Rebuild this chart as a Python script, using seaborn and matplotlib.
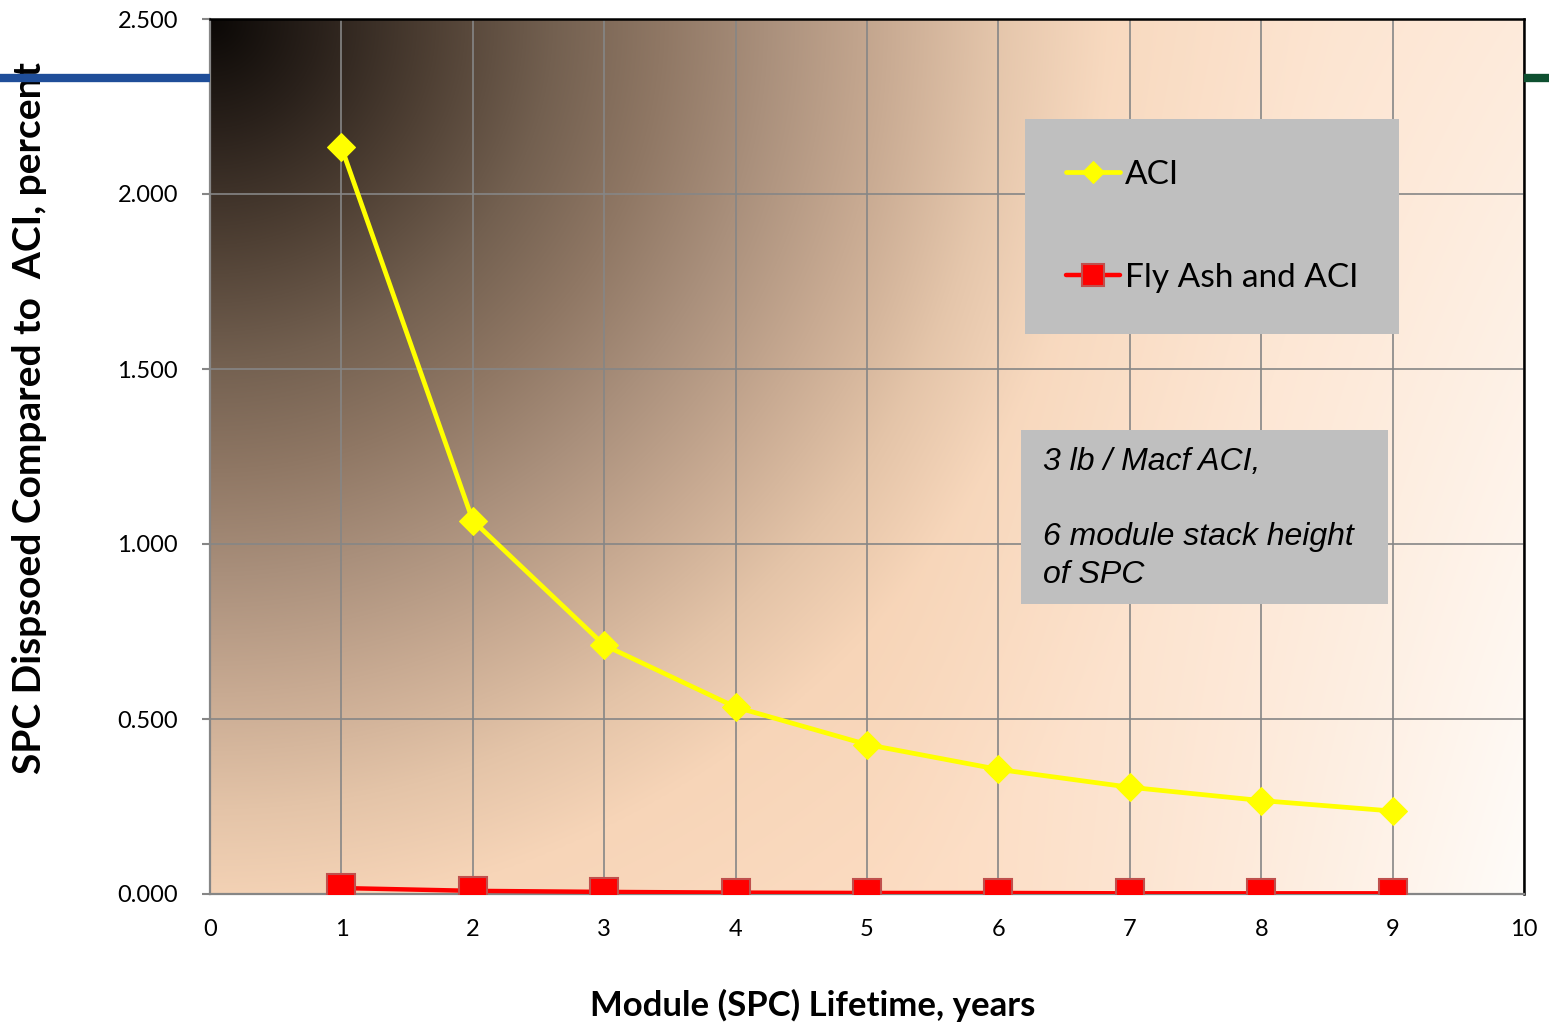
import numpy as np
import pandas as pd
import matplotlib
matplotlib.use("Agg")
import matplotlib.pyplot as plt
import seaborn as sns
from matplotlib.lines import Line2D
from matplotlib.patches import Rectangle

# ---------------- data ----------------
years = [1, 2, 3, 4, 5, 6, 7, 8, 9]
aci = [2.134, 1.067, 0.711, 0.534, 0.427, 0.356, 0.305, 0.267, 0.237]
fly_ash_aci = [0.017, 0.009, 0.006, 0.004, 0.003, 0.003, 0.002, 0.002, 0.002]
series_names = ["ACI", "Fly Ash and ACI"]
x_ticks = [0, 1, 2, 3, 4, 5, 6, 7, 8, 9, 10]
y_ticks = [0.0, 0.5, 1.0, 1.5, 2.0, 2.5]
y_tick_labels = ["0.000", "0.500", "1.000", "1.500", "2.000", "2.500"]
x_label = "Module (SPC) Lifetime, years"
y_label = "SPC Dispsoed Compared to  ACI, percent"
note_text = "3 lb / Macf ACI,\n\n6 module stack height\nof SPC"

sns.set_style("white")
plt.rcParams["font.family"] = ["Lato", "DejaVu Sans"]
plt.rcParams["text.color"] = "black"
plt.rcParams["axes.labelcolor"] = "black"

W, H = 1549, 1024
fig = plt.figure(figsize=(W / 100, H / 100), dpi=100)
L, R, T, B = 210, 1524, 19, 894
ax = fig.add_axes([L / W, 1 - B / H, (R - L) / W, (B - T) / H])

# ---------------- background gradient ----------------
nh, nw = 220, 330
px = np.linspace(0, R - L, nw)[None, :]
py = np.linspace(0, B - T, nh)[:, None]
d = np.sqrt(px ** 2 + py ** 2) / 900.0
stops = [0.0, 0.12, 0.25, 0.38, 0.5, 0.62, 0.75, 0.88, 1.0, 1.25]
cols = ["#0b0806", "#2a211b", "#4f4034", "#736050", "#8f7764",
        "#aa907c", "#c8aa92", "#e4c4a8", "#f7d5b8", "#fcdcc2"]
rgb = np.array([matplotlib.colors.to_rgb(c) for c in cols])
img = np.stack([np.interp(d, stops, rgb[:, k]) for k in range(3)], axis=-1)
u = px / (R - L)
vdown = py / (B - T)
w = np.clip((u - 0.5) / 0.5, 0, 1) ** 1.4 * (0.45 + 0.55 * vdown)
white = np.array(matplotlib.colors.to_rgb("#fffcf9"))
img = img * (1 - w[..., None]) + white * w[..., None]
ax.imshow(img, extent=[0, 1, 0, 1], transform=ax.transAxes,
          aspect="auto", zorder=0, interpolation="bilinear")

# ---------------- series ----------------
sns.lineplot(x=years, y=fly_ash_aci, ax=ax, color="#ff0000", linewidth=3.2,
             marker="s", markersize=20, markeredgecolor="#c0504d",
             markeredgewidth=1.5, label=series_names[1], zorder=3)
sns.lineplot(x=years, y=aci, ax=ax, color="#ffff00", linewidth=3.4,
             marker="D", markersize=14, markeredgecolor="#ffff00",
             label=series_names[0], zorder=4)

ax.set_xlim(0, 10)
ax.set_ylim(0, 2.5)
ax.set_xticks(x_ticks)
ax.set_yticks(y_ticks)
ax.set_yticklabels(y_tick_labels)
ax.set_axisbelow(True)
ax.grid(True, color="#868686", linewidth=1.2)

for side in ["left", "bottom"]:
    ax.spines[side].set_color("#868686")
    ax.spines[side].set_linewidth(1.6)
for side in ["top", "right"]:
    ax.spines[side].set_color("black")
    ax.spines[side].set_linewidth(1.8)
    ax.spines[side].set_visible(True)

ax.tick_params(axis="y", length=6, width=1.5, color="#868686", pad=17,
               labelsize=17, labelcolor="black", left=True)
ax.tick_params(axis="x", length=0, pad=18, labelsize=17, labelcolor="black")

ax.set_xlabel(x_label, fontsize=25, fontweight="bold", va="center",
              color="black")
ax.xaxis.set_label_coords((813 - L) / (R - L), (B - 1005) / (B - T))
ax.set_ylabel(y_label, fontsize=28, fontweight="bold", va="center",
              color="black")
ax.yaxis.set_label_coords((30 - L) / (R - L), (B - 418) / (B - T))

# ---------------- legend ----------------
handles, labels = ax.get_legend_handles_labels()
order = [labels.index(series_names[0]), labels.index(series_names[1])]
leg = ax.legend([handles[i] for i in order], [labels[i] for i in order],
                loc="upper left",
                bbox_to_anchor=((1025 - L) / (R - L), (B - 119) / (B - T)),
                fontsize=24, frameon=True, fancybox=False, framealpha=1,
                facecolor="#bfbfbf", edgecolor="none", borderpad=1.22,
                labelspacing=2.2, handlelength=1.64, handletextpad=0.15,
                borderaxespad=0, markerscale=0.8)
leg.set_zorder(6)

# ---------------- annotation box ----------------
ax.add_patch(Rectangle(((1021 - L) / (R - L), (B - 604) / (B - T)),
                       (1388 - 1021) / (R - L), (604 - 430) / (B - T),
                       transform=ax.transAxes, facecolor="#bfbfbf",
                       edgecolor="none", zorder=6))
ax.text((1043 - L) / (R - L), (B - 447) / (B - T), note_text,
        transform=ax.transAxes, ha="left", va="top", fontsize=23,
        style="italic", family=["Liberation Sans", "DejaVu Sans"],
        linespacing=1.33, zorder=7)

# ---------------- slide decorations ----------------
fig.add_artist(Line2D([0, L / W], [1 - 78 / H, 1 - 78 / H],
                      transform=fig.transFigure, color="#1f4e99",
                      linewidth=6, solid_capstyle="butt"))
fig.add_artist(Line2D([R / W, 1], [1 - 78 / H, 1 - 78 / H],
                      transform=fig.transFigure, color="#0e5030",
                      linewidth=6, solid_capstyle="butt"))

fig.savefig("out.png", dpi=100)
